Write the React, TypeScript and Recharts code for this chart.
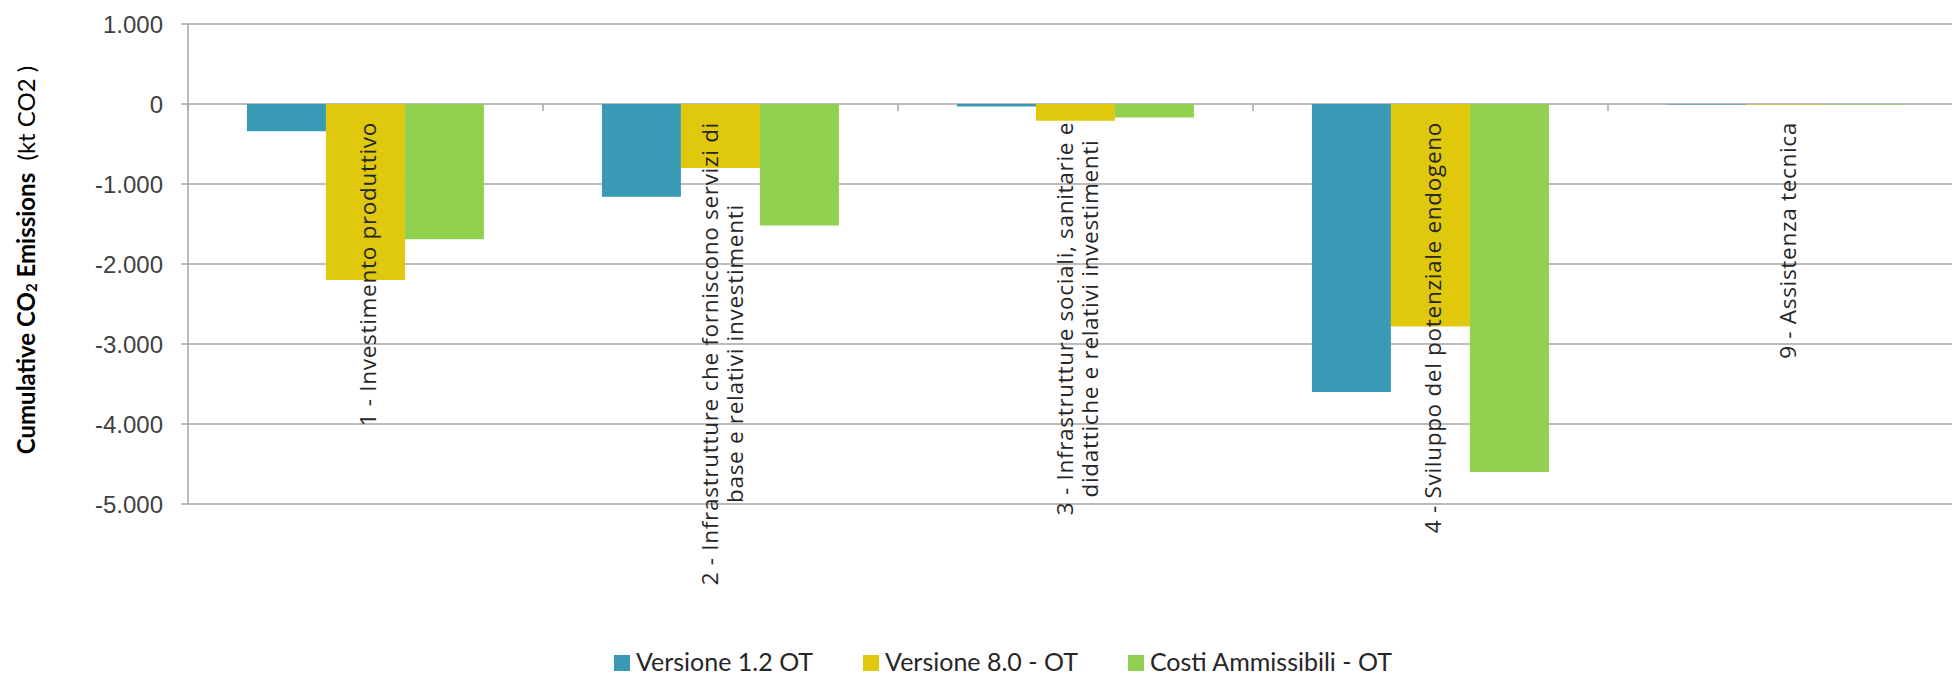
import React from "react";
import { BarChart, Bar, XAxis, YAxis, CartesianGrid, Legend, Label } from "recharts";

const CATEGORIES = [
  "1 - Investimento produttivo",
  "2 - Infrastrutture che forniscono servizi di\nbase e relativi investimenti",
  "3 - Infrastrutture sociali, sanitarie e\ndidattiche e relativi investimenti",
  "4 - Sviluppo del potenziale endogeno",
  "9 - Assistenza tecnica",
];
const VERSIONE_12 = [-340, -1160, -30, -3600, -6];
const VERSIONE_80 = [-2200, -800, -210, -2780, -5];
const COSTI_AMMISSIBILI = [-1690, -1520, -170, -4600, -5];
const Y_TICKS = [1000, 0, -1000, -2000, -3000, -4000, -5000];
const Y_MIN = -5000;
const Y_MAX = 1000;

const SERIES = [
  { key: "v12", name: "Versione 1.2 OT", color: "#3a9ab5" },
  { key: "v80", name: "Versione 8.0 - OT", color: "#e0c80c" },
  { key: "costi", name: "Costi Ammissibili - OT", color: "#92d050" },
];

const data = CATEGORIES.map((name, i) => ({
  name,
  v12: VERSIONE_12[i],
  v80: VERSIONE_80[i],
  costi: COSTI_AMMISSIBILI[i],
}));

const TOP = 24;
const PLOT_H = 480;
const ZERO_Y = TOP + (PLOT_H * Y_MAX) / (Y_MAX - Y_MIN);
const GRID = "#a6a6a6";
const CAT_SIZE = 22.5;
const CAT_SPACING = 0.7;

const fmt = (v: number) => {
  const s = Math.abs(v).toString().replace(/\B(?=(\d{3})+(?!\d))/g, ".");
  return v < 0 ? "-" + s : s;
};

let ctx: CanvasRenderingContext2D | null = null;
function measure(t: string) {
  if (!ctx) ctx = document.createElement("canvas").getContext("2d");
  if (!ctx) return t.length * 11.5;
  ctx.font = `${CAT_SIZE}px 'Open Sans'`;
  return ctx.measureText(t).width + t.length * CAT_SPACING;
}

function CategoryTick(props: any) {
  const { x, payload } = props;
  const lines: string[] = String(payload.value).split("\n");
  const maxLen = Math.max(...lines.map(measure));
  const cy = ZERO_Y + 18 + maxLen / 2;
  const half = payload.offset ?? 177.5;
  return (
    <g>
      <line x1={x - half} x2={x - half} y1={ZERO_Y} y2={ZERO_Y + 7} stroke={GRID} strokeWidth={1.5} />
      {lines.map((l, i) => {
        const cx = x + (i - (lines.length - 1) / 2) * 25 + 2;
        return (
          <text
            key={i}
            x={cx}
            y={cy}
            transform={`rotate(-90, ${cx}, ${cy})`}
            textAnchor="middle"
            dominantBaseline="central"
            fontFamily="Open Sans"
            fontSize={CAT_SIZE}
            letterSpacing={CAT_SPACING}
            fill="#262626"
          >
            {l}
          </text>
        );
      })}
    </g>
  );
}

function YTitle(props: any) {
  const { viewBox } = props;
  const cx = viewBox.x + 25;
  const cy = viewBox.y + viewBox.height / 2 - 4;
  return (
    <text
      x={cx}
      y={cy}
      transform={`rotate(-90, ${cx}, ${cy})`}
      textAnchor="middle"
      dominantBaseline="central"
      fontFamily="Lato"
      fontSize={24}
      fill="#000"
    >
      <tspan fontWeight="bold">Cumulative CO</tspan>
      <tspan fontWeight="bold" fontSize={15} dy={6}>2</tspan>
      <tspan fontWeight="bold" dy={-6}> Emissions</tspan>
      <tspan>{"\u00a0\u00a0(kt CO2\u00a0)"}</tspan>
    </text>
  );
}

function LegendContent() {
  return (
    <div style={{ display: "flex", alignItems: "center", paddingLeft: 614, height: 28, marginTop: 2 }}>
      {SERIES.map((s) => (
        <div key={s.key} style={{ display: "flex", alignItems: "center", marginRight: 50 }}>
          <div style={{ width: 16, height: 16, background: s.color, marginRight: 6, marginTop: 4 }} />
          <span style={{ fontFamily: "Lato", fontSize: 25, lineHeight: "26px", color: "#262626" }}>{s.name}</span>
        </div>
      ))}
    </div>
  );
}

export default function App() {
  return (
    <div style={{ position: "absolute", left: 0, top: 0, width: 1952, height: 675, overflow: "hidden", background: "#fff" }}>
      <BarChart
        width={1970}
        height={675}
        data={data}
        margin={{ top: TOP, right: 7, bottom: 0, left: 0 }}
        barCategoryGap="16.6%"
        barGap={0}
      >
        <CartesianGrid vertical={false} stroke={GRID} strokeWidth={1.5} />
        <XAxis
          dataKey="name"
          height={141}
          axisLine={false}
          tickLine={false}
          interval={0}
          tick={<CategoryTick />}
        />
        <YAxis
          width={188}
          domain={[Y_MIN, Y_MAX]}
          ticks={Y_TICKS}
          allowDataOverflow
          tickFormatter={fmt}
          axisLine={{ stroke: GRID, strokeWidth: 1.5 }}
          tickLine={{ stroke: GRID, strokeWidth: 1.5 }}
          tickSize={7}
          tickMargin={18}
          tick={{ fontFamily: "Liberation Sans", fontSize: 24, fill: "#404040" }}
        >
          <Label content={<YTitle />} />
        </YAxis>
        <Legend verticalAlign="bottom" align="left" height={30} content={<LegendContent />} />
        {SERIES.map((s) => (
          <Bar key={s.key} dataKey={s.key} name={s.name} fill={s.color} isAnimationActive={false} />
        ))}
      </BarChart>
    </div>
  );
}
